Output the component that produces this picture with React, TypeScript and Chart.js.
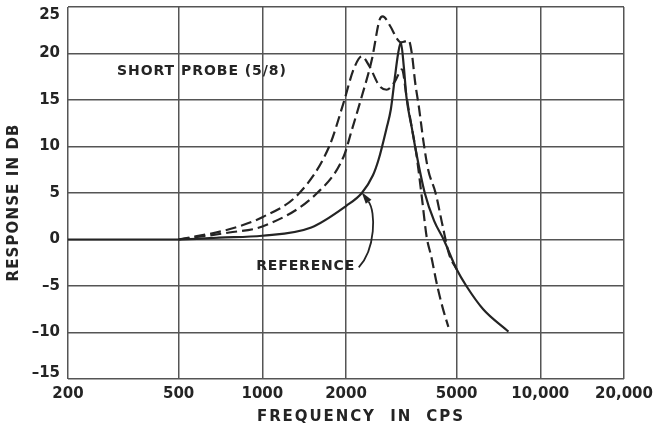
import React, { useEffect, useRef } from 'react';
import { Chart, registerables } from 'chart.js';

Chart.register(...registerables);

// ---- Axis ticks ----
const xTickValues = [200, 500, 1000, 2000, 5000, 10000, 20000];
const xTickLabels = ['200', '500', '1000', '2000', '5000', '10,000', '20,000'];
const yTickValues = [-15, -10, -5, 0, 5, 10, 15, 20, 25];
const yTickLabels = ['–15', '–10', '–5', '0', '5', '10', '15', '20', '25'];

// ---- Series: REFERENCE (solid) ----
const referenceFreq = [200, 500, 700, 1000, 1500, 2000, 2280, 2500, 2620, 2800, 2900, 3000, 3080, 3150, 3230, 3300, 3450, 3570, 3840, 4150, 4490, 5000, 5420, 6230, 7680];
const referenceDb = [0, 0, 0.2, 0.4, 1.3, 3.6, 5.0, 6.9, 8.6, 12.0, 14.0, 17.5, 20.0, 21.2, 18.5, 15.3, 12.0, 9.5, 5.0, 2.0, 0, -3.2, -5.0, -7.5, -9.9];

// ---- Series: short probe, first peak (dashed) ----
const probeAFreq = [500, 760, 1000, 1360, 1740, 1960, 2130, 2280, 2430, 2640, 2800, 3000, 3180, 3300, 3450, 3570, 3750, 3900, 4050, 4260, 4450, 4670];
const probeADb = [0, 1.1, 2.4, 5.0, 10.0, 14.7, 18.3, 19.7, 18.6, 16.5, 16.1, 17.0, 18.3, 15.4, 12.0, 9.5, 4.5, 0.3, -1.8, -5.0, -7.3, -9.4];

// ---- Series: short probe, high peak (dashed) ----
const probeBFreq = [500, 760, 1000, 1575, 1960, 2100, 2280, 2480, 2640, 2710, 2890, 3050, 3150, 3260, 3360, 3450, 3550, 3660, 3800, 3950, 4200, 4450, 4700, 5000];
const probeBDb = [0, 0.75, 1.4, 5.0, 8.9, 11.8, 15.4, 19.4, 23.6, 24.0, 22.9, 21.6, 21.2, 21.3, 21.4, 20.0, 16.8, 14.2, 10.5, 7.5, 5.0, 1.5, -1.6, -3.2];

// ---- Annotations (data coordinates: freq, dB) ----
const probeLabel = 'SHORT PROBE (5/8)';
const probeLabelAt = [604, 18.1];
const referenceLabel = 'REFERENCE';
const referenceLabelAt = [1427, -2.8];
const arrowStart = [2222, -3.0];
const arrowCtrl1 = [2560, -1.0];
const arrowCtrl2 = [2560, 3.0];
const arrowTip = [2275, 5.1];

const xTitle = 'FREQUENCY  IN  CPS';
const yTitle = 'RESPONSE IN DB';

const INK = '#242424';
const GRID = '#555555';
const FONT = '"DejaVu Sans", sans-serif';

function toPoints(xs: number[], ys: number[]) {
  return xs.map((x, i) => ({ x, y: ys[i] }));
}

function drawSpaced(ctx: any, text: string, cx: number, cy: number, width: number, size: number) {
  ctx.font = `bold ${size}px ${FONT}`;
  ctx.letterSpacing = '0px';
  const natural = ctx.measureText(text).width;
  const sp = Math.max(0, (width - natural) / (text.length - 1));
  ctx.letterSpacing = `${sp}px`;
  const w = ctx.measureText(text).width - sp;
  ctx.textAlign = 'left';
  ctx.textBaseline = 'middle';
  ctx.fillText(text, cx - w / 2, cy);
  ctx.letterSpacing = '0px';
}

const annotationPlugin = {
  id: 'annotations',
  beforeDraw(chart: any) {
    // nudge the end labels of the y axis inward, as in the original drawing
    const ys = chart.scales.y;
    const items = ys.getLabelItems(chart.chartArea);
    items.forEach((it: any) => {
      if (it.label === yTickLabels[yTickLabels.length - 1]) it.options.translation[1] += 8;
      if (it.label === yTickLabels[0]) it.options.translation[1] -= 6;
    });
  },
  afterDatasetsDraw(chart: any) {
    const { ctx, scales, chartArea } = chart;
    const x = scales.x;
    const y = scales.y;
    const px = (p: number[]) => [x.getPixelForValue(p[0]), y.getPixelForValue(p[1])];
    ctx.save();
    ctx.fillStyle = INK;
    ctx.strokeStyle = INK;

    const [lx, ly] = px(probeLabelAt);
    drawSpaced(ctx, probeLabel, lx, ly, 169, 14);
    const [rx, ry] = px(referenceLabelAt);
    drawSpaced(ctx, referenceLabel, rx, ry + 1, 98, 14);

    // arrow
    const s = px(arrowStart);
    const c1 = px(arrowCtrl1);
    const c2 = px(arrowCtrl2);
    const t = px(arrowTip);
    const ang = Math.atan2(t[1] - c2[1], t[0] - c2[0]);
    const headLen = 12;
    const base = [t[0] - headLen * Math.cos(ang), t[1] - headLen * Math.sin(ang)];
    ctx.lineWidth = 1.8;
    ctx.beginPath();
    ctx.moveTo(s[0], s[1]);
    ctx.bezierCurveTo(c1[0], c1[1], c2[0], c2[1], base[0], base[1]);
    ctx.stroke();
    ctx.beginPath();
    ctx.moveTo(t[0], t[1]);
    ctx.lineTo(base[0] + 3.5 * Math.sin(ang), base[1] - 3.5 * Math.cos(ang));
    ctx.lineTo(base[0] - 3.5 * Math.sin(ang), base[1] + 3.5 * Math.cos(ang));
    ctx.closePath();
    ctx.fill();

    // axis titles
    const midX = (chartArea.left + chartArea.right) / 2;
    const midY = (chartArea.top + chartArea.bottom) / 2;
    drawSpaced(ctx, xTitle, midX + 14, chartArea.bottom + 38, 206, 15);
    ctx.translate(14, midY + 10);
    ctx.rotate(-Math.PI / 2);
    drawSpaced(ctx, yTitle, 0, 0, 157, 15);
    ctx.restore();
  },
};

export default function App() {
  const canvasRef = useRef<HTMLCanvasElement | null>(null);

  useEffect(() => {
    const canvas = canvasRef.current;
    if (!canvas) return;
    const lineCommon = {
      pointRadius: 0,
      borderColor: INK,
      borderWidth: 2.2,
      fill: false,
      cubicInterpolationMode: 'monotone' as const,
    };
    const chart = new Chart(canvas, {
      type: 'line',
      data: {
        datasets: [
          { ...lineCommon, label: 'Reference', data: toPoints(referenceFreq, referenceDb) },
          { ...lineCommon, label: 'Short probe A', data: toPoints(probeAFreq, probeADb), borderDash: [11, 5] },
          { ...lineCommon, label: 'Short probe B', data: toPoints(probeBFreq, probeBDb), borderDash: [11, 5] },
        ],
      },
      options: {
        animation: false,
        responsive: false,
        devicePixelRatio: 1,
        layout: { padding: { top: 7, right: 34, left: 0, bottom: 0 } },
        plugins: { legend: { display: false }, tooltip: { enabled: false } },
        scales: {
          x: {
            type: 'logarithmic',
            min: 200,
            max: 20000,
            afterBuildTicks: (s: any) => {
              s.ticks = xTickValues.map((v) => ({ value: v }));
            },
            afterFit: (s: any) => {
              s.height = 48;
              s.paddingLeft = 0;
              s.paddingRight = 0;
            },
            ticks: {
              autoSkip: false,
              maxRotation: 0,
              padding: 6,
              color: INK,
              font: { family: FONT, size: 15, weight: 'bold' },
              callback: (v: any) => xTickLabels[xTickValues.indexOf(Number(v))] ?? '',
            },
            grid: { color: GRID, lineWidth: 1.5, drawTicks: false },
            border: { display: false },
          },
          y: {
            type: 'linear',
            min: -15,
            max: 25,
            afterBuildTicks: (s: any) => {
              s.ticks = yTickValues.map((v) => ({ value: v }));
            },
            afterFit: (s: any) => {
              s.width = 68;
              s.paddingTop = 0;
              s.paddingBottom = 0;
            },
            ticks: {
              padding: 8,
              color: INK,
              font: { family: FONT, size: 15, weight: 'bold' },
              callback: (v: any) => yTickLabels[yTickValues.indexOf(Number(v))] ?? '',
            },
            grid: { color: GRID, lineWidth: 1.5, drawTicks: false },
            border: { display: false },
          },
        },
      },
      plugins: [annotationPlugin],
    });
    return () => chart.destroy();
  }, []);

  return (
    <div style={{ position: 'fixed', left: 0, top: 0, width: 658, height: 427, background: '#fff' }}>
      <canvas ref={canvasRef} width={658} height={427} />
    </div>
  );
}
